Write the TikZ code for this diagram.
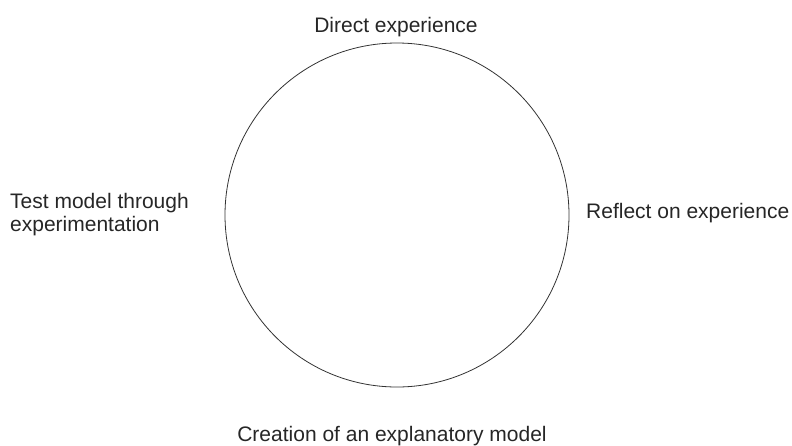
\documentclass[tikz,border=0pt]{standalone}
\usepackage{fontspec}
\setmainfont{Liberation Sans}
\begin{document}
\begin{tikzpicture}[x=1pt, y=-1pt, line join=round, line cap=round,
		lbl/.style={inner sep=0pt, font=\fontsize{21}{23}\selectfont, text=black!85}]
				\def\cx{397}\def\cy{215}\def\rad{172}
				\useasboundingbox (0,0) rectangle (792,445);
				\node[draw=black!80, line width=0.8pt, circle, minimum size=2*\rad pt, inner sep=0pt] (cyc) at (\cx,\cy) {};
				\node[lbl, anchor=base] (exp) at (396,32) {Direct experience};
				\node[lbl, anchor=base west] (refl) at (586,218) {Reflect on experience};
				\node[lbl, anchor=base] (model) at (392,441) {Creation of an explanatory model};
				\node[lbl, anchor=base west, align=left] (test) at (10,231) {Test model through\\experimentation};
		\end{tikzpicture}
\end{document}
